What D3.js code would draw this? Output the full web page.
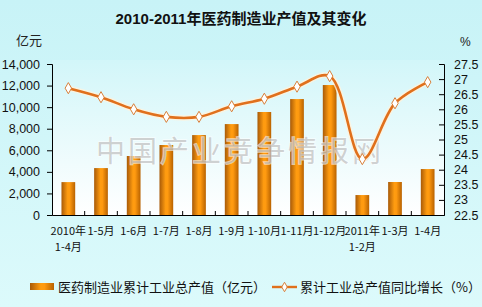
<!DOCTYPE html>
<html>
<head>
<meta charset="utf-8">
<script src="https://cdn.jsdelivr.net/npm/d3@7"></script>
<style>
  body { margin: 0; }
  svg { display: block; }
</style>
</head>
<body>
<script>
const width = 482;
const height = 307;

// data
const categories = ["2010年\n1-4月", "1-5月", "1-6月", "1-7月", "1-8月", "1-9月", "1-10月", "1-11月", "1-12月", "2011年\n1-2月", "1-3月", "1-4月"];
const output = [3050, 4350, 5470, 6490, 7410, 8430, 9550, 10750, 12050, 1850, 3060, 4260];
const growth = [26.7, 26.4, 26.0, 25.75, 25.75, 26.1, 26.35, 26.75, 27.1, 24.35, 26.2, 26.9];
const leftTicks = [0, 2000, 4000, 6000, 8000, 10000, 12000, 14000];
const rightTicks = [22.5, 23, 23.5, 24, 24.5, 25, 25.5, 26, 26.5, 27, 27.5];

const plot = { left: 52, right: 444, top: 64, bottom: 215 };

const svg = d3.select("body").append("svg")
    .attr("width", width)
    .attr("height", height)
    .style("font-family", "Arial, 'Liberation Sans', 'Noto Sans CJK SC', sans-serif");

const defs = svg.append("defs");

const bg = defs.append("linearGradient").attr("id", "bg").attr("x1", 0).attr("y1", 0).attr("x2", 0).attr("y2", 1);
bg.append("stop").attr("offset", "0%").attr("stop-color", "#c8f3f7");
bg.append("stop").attr("offset", "100%").attr("stop-color", "#dcfafb");

const plotBg = defs.append("linearGradient").attr("id", "plotbg").attr("x1", 0).attr("y1", 0).attr("x2", 0).attr("y2", 1);
plotBg.append("stop").attr("offset", "0%").attr("stop-color", "#d2f6f9");
plotBg.append("stop").attr("offset", "100%").attr("stop-color", "#ffffff");

const barGrad = defs.append("linearGradient").attr("id", "bar").attr("x1", 0).attr("y1", 0).attr("x2", 1).attr("y2", 0);
barGrad.append("stop").attr("offset", "0%").attr("stop-color", "#a85a08");
barGrad.append("stop").attr("offset", "45%").attr("stop-color", "#ff9c10");
barGrad.append("stop").attr("offset", "60%").attr("stop-color", "#ff9a10");
barGrad.append("stop").attr("offset", "100%").attr("stop-color", "#b86200");

svg.append("rect").attr("width", width).attr("height", height).attr("fill", "url(#bg)");
svg.append("rect")
    .attr("x", plot.left).attr("y", plot.top - 4)
    .attr("width", plot.right - plot.left).attr("height", plot.bottom - plot.top + 4)
    .attr("fill", "url(#plotbg)");

const x = d3.scaleBand()
    .domain(categories)
    .range([plot.left, plot.right])
    .paddingInner(0.58)
    .paddingOuter(0.29);

const yL = d3.scaleLinear().domain([0, 14000]).range([plot.bottom, plot.top]);
const yR = d3.scaleLinear().domain([22.5, 27.5]).range([plot.bottom, plot.top]);

// title
svg.append("text")
    .attr("x", 241).attr("y", 24)
    .attr("text-anchor", "middle")
    .attr("font-size", 15).attr("font-weight", "bold")
    .attr("fill", "#111")
    .text("2010-2011年医药制造业产值及其变化");

svg.append("text").attr("x", 16).attr("y", 45).attr("font-size", 13).attr("fill", "#222").text("亿元");
svg.append("text").attr("x", 460).attr("y", 46).attr("font-size", 12).attr("fill", "#222").text("%");

// bars
svg.append("g")
    .selectAll("rect")
    .data(output)
    .join("rect")
    .attr("x", (d, i) => x(categories[i]))
    .attr("y", d => yL(d))
    .attr("width", x.bandwidth())
    .attr("height", d => plot.bottom - yL(d))
    .attr("fill", "url(#bar)");

// watermark
svg.append("text")
    .attr("x", 240).attr("y", 162)
    .attr("text-anchor", "middle")
    .attr("font-size", 29)
    .attr("letter-spacing", 3)
    .attr("font-family", "'Noto Sans CJK SC', sans-serif")
    .attr("fill", "#b8b8b8").attr("fill-opacity", 0.65)
    .attr("stroke", "#ffffff").attr("stroke-width", 1.5).attr("stroke-opacity", 0.6)
    .attr("paint-order", "stroke")
    .text("中国产业竞争情报网");

// axes
const axisL = svg.append("g")
    .attr("transform", `translate(${plot.left},0)`)
    .call(d3.axisLeft(yL).tickValues(leftTicks).tickSize(5).tickPadding(7).tickFormat(d3.format(",")));
const axisR = svg.append("g")
    .attr("transform", `translate(${plot.right},0)`)
    .call(d3.axisRight(yR).tickValues(rightTicks).tickSize(-5).tickPadding(10).tickFormat(d => d));
const axisB = svg.append("g")
    .attr("transform", `translate(0,${plot.bottom})`)
    .call(d3.axisBottom(x).tickSize(0).tickFormat(""));

[axisL, axisR, axisB].forEach(a => {
    a.select(".domain").attr("stroke", "#000");
    a.selectAll(".tick line").attr("stroke", "#000");
    a.selectAll(".tick text").attr("font-size", 12.5).attr("fill", "#111")
        .attr("font-family", "Arial, 'Liberation Sans', sans-serif");
});
axisB.selectAll(".tick").remove();

// category boundary ticks (pointing up)
svg.append("g")
    .selectAll("line")
    .data(categories.slice(1))
    .join("line")
    .attr("x1", d => x(d) - x.step() * x.paddingInner() / 2)
    .attr("x2", d => x(d) - x.step() * x.paddingInner() / 2)
    .attr("y1", plot.bottom)
    .attr("y2", plot.bottom - 4)
    .attr("stroke", "#000");

// category labels
const labels = svg.append("g")
    .selectAll("text")
    .data(categories)
    .join("text")
    .attr("x", d => x(d) + x.bandwidth() / 2)
    .attr("y", 235)
    .attr("text-anchor", "middle")
    .attr("font-size", 11)
    .attr("fill", "#111")
    .attr("font-family", "'Noto Sans CJK SC', sans-serif");
labels.each(function(d) {
    const parts = d.split("\n");
    const t = d3.select(this);
    parts.forEach((p, k) => {
        t.append("tspan").attr("x", x(d) + x.bandwidth() / 2).attr("dy", k ? 16 : 0).text(p);
    });
});

// growth line
const line = d3.line()
    .x((d, i) => x(categories[i]) + x.bandwidth() / 2)
    .y(d => yR(d))
    .curve(d3.curveCatmullRom.alpha(0.5));

svg.append("path")
    .datum(growth)
    .attr("d", line)
    .attr("fill", "none")
    .attr("stroke", "#fff3dc")
    .attr("stroke-width", 5.5)
    .attr("stroke-opacity", 0.8);
svg.append("path")
    .datum(growth)
    .attr("d", line)
    .attr("fill", "none")
    .attr("stroke", "#e0701c")
    .attr("stroke-width", 2.6);

svg.append("g")
    .selectAll("path")
    .data(growth)
    .join("path")
    .attr("d", d3.symbol(d3.symbolDiamond, 36))
    .attr("transform", (d, i) => `translate(${x(categories[i]) + x.bandwidth() / 2},${yR(d)})`)
    .attr("fill", "#fff")
    .attr("stroke", "#d8803a")
    .attr("stroke-width", 1);

// legend
const legend = svg.append("g").attr("font-size", 13).attr("fill", "#111")
    .attr("font-family", "'Noto Sans CJK SC', sans-serif");
legend.append("rect").attr("x", 30).attr("y", 283).attr("width", 24).attr("height", 7).attr("fill", "url(#bar)");
legend.append("text").attr("x", 58).attr("y", 292).text("医药制造业累计工业总产值（亿元）");
legend.append("line").attr("x1", 272).attr("x2", 297).attr("y1", 287).attr("y2", 287)
    .attr("stroke", "#e0701c").attr("stroke-width", 2.4);
legend.append("path").attr("d", d3.symbol(d3.symbolDiamond, 26))
    .attr("transform", "translate(284.5,287)")
    .attr("fill", "#fff").attr("stroke", "#d8803a");
legend.append("text").attr("x", 300).attr("y", 292).text("累计工业总产值同比增长（%）");
</script>
</body>
</html>
